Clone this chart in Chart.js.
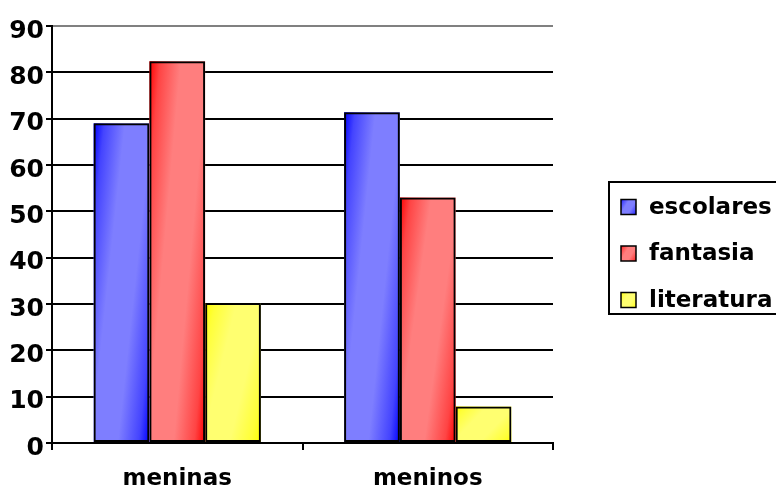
<!DOCTYPE html>
<html>
<head>
<meta charset="utf-8">
<script src="https://cdn.jsdelivr.net/npm/chart.js@4.4.1/dist/chart.umd.min.js"></script>
<style>
  html, body { margin: 0; padding: 0; background: #ffffff; }
  #wrap { width: 776px; height: 489px; }
</style>
</head>
<body>
<div id="wrap"><canvas id="chart" width="776" height="489"></canvas></div>
<script>
// Groups on the x axis
const categories = ['meninas', 'meninos'];

// Series values (percent)
const escolares  = [69.0, 71.4];
const fantasia   = [82.4, 53.0];
const literatura = [30.2, 7.9];

// Series names shown in the legend
const seriesNames = ['escolares', 'fantasia', 'literatura'];

// Value axis ticks
const yTicks = [0, 10, 20, 30, 40, 50, 60, 70, 80, 90];

// Shading per series: [deep, middle, pale]
const shades = [
  ['#0000ff', '#4444ff', '#7e7eff'],
  ['#ff0000', '#ff4444', '#ff7e7e'],
  ['#ffff00', '#ffff38', '#ffff70']
];

const FONT = 'DejaVu Sans';

// Fill a rectangle with a slanted deep-pale-deep gradient laid out in the
// rectangle's own unit space: deep at the top-left and bottom-right corners.
function shadeRect(ctx, left, top, w, h, pair) {
  if (w <= 0 || h <= 0) return;
  ctx.save();
  ctx.translate(left, top);
  ctx.scale(w, h);
  // gradient parameter t = 0.62*u + 0.38*v across the unit box
  const g = ctx.createLinearGradient(0, 0, 1.1725, 0.7186);
  g.addColorStop(0, pair[0]);
  g.addColorStop(0.12, pair[1]);
  g.addColorStop(0.35, pair[2]);
  g.addColorStop(0.65, pair[2]);
  g.addColorStop(0.88, pair[1]);
  g.addColorStop(1, pair[0]);
  ctx.fillStyle = g;
  ctx.fillRect(0, 0, 1, 1);
  ctx.restore();
}

// Paints the gradient body of each bar before Chart.js strokes its outline.
const gradientBars = {
  id: 'gradientBars',
  beforeDatasetDraw(chart, args) {
    const ctx = chart.ctx;
    const pair = shades[args.index];
    args.meta.data.forEach(el => {
      const p = el.getProps(['x', 'y', 'base', 'width'], true);
      const left = p.x - p.width / 2;
      const top = Math.min(p.y, p.base);
      const h = Math.abs(p.base - p.y);
      shadeRect(ctx, left, top, p.width, h, pair);
    });
  }
};

// Boxed legend on the right-hand side.
const boxedLegend = {
  id: 'boxedLegend',
  afterDraw(chart) {
    const ctx = chart.ctx;
    const boxL = 609, boxT = 182, boxR = 800, boxB = 314;
    ctx.save();
    ctx.lineWidth = 2;
    ctx.strokeStyle = '#000000';
    ctx.strokeRect(boxL, boxT, boxR - boxL, boxB - boxT);
    const rows = [207, 253.5, 300];
    ctx.font = 'bold 23px "' + FONT + '"';
    ctx.textAlign = 'left';
    ctx.textBaseline = 'middle';
    chart.data.datasets.forEach((ds, i) => {
      const cy = rows[i];
      const sx = 621, sz = 15;
      shadeRect(ctx, sx, cy - sz / 2, sz, sz, shades[i]);
      ctx.lineWidth = 1.5;
      ctx.strokeStyle = '#000000';
      ctx.strokeRect(sx, cy - sz / 2, sz, sz);
      ctx.fillStyle = '#000000';
      ctx.fillText(ds.label, 649, cy + 1);
    });
    ctx.restore();
  }
};

const seriesValues = [escolares, fantasia, literatura];

const datasets = seriesNames.map((name, i) => ({
  label: name,
  data: seriesValues[i],
  backgroundColor: 'rgba(0,0,0,0)',
  borderColor: '#000000',
  borderWidth: 2,
  borderSkipped: false,
  categoryPercentage: 0.668,
  barPercentage: 1.0
}));

new Chart(document.getElementById('chart'), {
  type: 'bar',
  data: { labels: categories, datasets: datasets },
  options: {
    responsive: false,
    animation: false,
    devicePixelRatio: 1,
    layout: { padding: { left: 0, right: 223, top: 26, bottom: 0 } },
    plugins: {
      legend: { display: false },
      tooltip: { enabled: false }
    },
    scales: {
      x: {
        afterFit(scale) { scale.height = 46; },
        offset: true,
        grid: {
          offset: true,
          drawOnChartArea: true,
          color: c => (c.index === categories.length ? '#808080' : 'rgba(0,0,0,0)'),
          lineWidth: 2,
          tickColor: '#000000',
          tickLength: 7
        },
        border: { color: '#000000', width: 2 },
        ticks: {
          color: '#000000',
          font: { family: FONT, weight: 'bold', size: 23 },
          padding: 15
        }
      },
      y: {
        afterFit(scale) { scale.width = 52; },
        min: 0,
        max: 90,
        afterBuildTicks(scale) { scale.ticks = yTicks.map(v => ({ value: v })); },
        grid: {
          color: c => (c.tick && c.tick.value === 90 ? '#808080' : '#000000'),
          lineWidth: 2,
          tickColor: '#000000',
          tickLength: 6
        },
        border: { color: '#000000', width: 2 },
        ticks: {
          color: '#000000',
          font: { family: FONT, weight: 'bold', size: 25 },
          padding: 2,
          labelOffset: 5
        }
      }
    }
  },
  plugins: [gradientBars, boxedLegend]
});
</script>
</body>
</html>
